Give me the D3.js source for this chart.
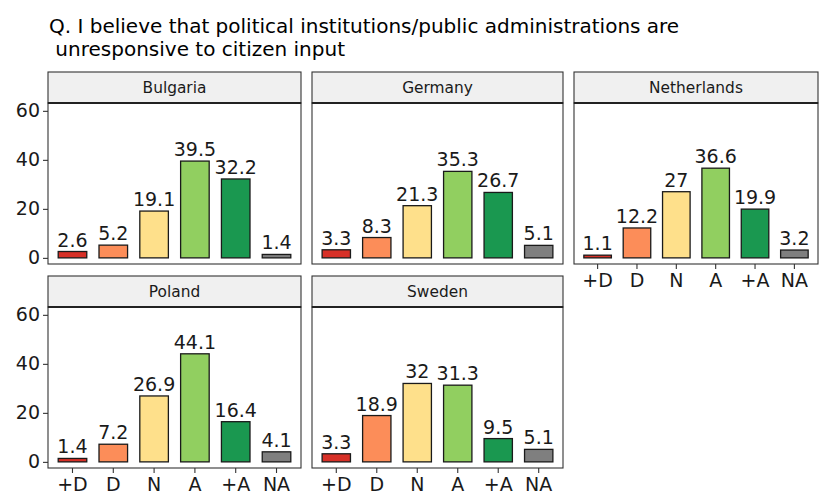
<!DOCTYPE html>
<html>
<head>
<meta charset="utf-8">
<script src="https://cdn.jsdelivr.net/npm/d3@7"></script>
<style>
  body { margin: 0; background: #fff; }
  text { font-family: "DejaVu Sans", sans-serif; }
</style>
</head>
<body>
<svg id="chart" width="820" height="495" viewBox="0 0 820 495"></svg>
<script>
// answer categories and their colours
const categories = ["+D", "D", "N", "A", "+A", "NA"];
const catColors = ["#d73027", "#fc8d59", "#fee08b", "#91cf60", "#1a9850", "#7f7f7f"];

const countries = ["Bulgaria", "Germany", "Netherlands", "Poland", "Sweden"];
const bulgaria = [2.6, 5.2, 19.1, 39.5, 32.2, 1.4];
const germany = [3.3, 8.3, 21.3, 35.3, 26.7, 5.1];
const netherlands = [1.1, 12.2, 27, 36.6, 19.9, 3.2];
const poland = [1.4, 7.2, 26.9, 44.1, 16.4, 4.1];
const sweden = [3.3, 18.9, 32, 31.3, 9.5, 5.1];
const yTicks = [0, 20, 40, 60];

const seriesByCountry = [bulgaria, germany, netherlands, poland, sweden];

const svg = d3.select("#chart");

svg.append("text")
  .attr("x", 49).attr("y", 33)
  .attr("font-size", 20).attr("fill", "#000")
  .text("Q. I believe that political institutions/public administrations are");
svg.append("text")
  .attr("x", 49).attr("y", 56)
  .attr("font-size", 20).attr("fill", "#000")
  .text("\u00a0unresponsive to citizen input");

const colX = [[48, 301], [312, 563], [574, 818]];
const rowTop = [72, 276];
const stripH = 31;
const panelH = 161;

// panel positions: [col, row, showYAxis, showXAxis]
const panelPos = [[0, 0, true, false], [1, 0, false, false], [2, 0, false, true],
                  [0, 1, true, true], [1, 1, false, true]];

countries.forEach((country, i) => {
  const [c, r, showY, showX] = panelPos[i];
  const values = seriesByCountry[i];
  const left = colX[c][0], right = colX[c][1];
  const stripTop = rowTop[r];
  const top = stripTop + stripH;
  const bottom = top + panelH;

  const x = d3.scaleBand()
    .domain(categories)
    .range([left, right])
    .paddingInner(0.3)
    .paddingOuter(0.25);

  const y = d3.scaleLinear().domain([-2.5, 63.2]).range([bottom, top]);

  const g = svg.append("g");

  // strip
  g.append("rect")
    .attr("x", left).attr("y", stripTop)
    .attr("width", right - left).attr("height", stripH)
    .attr("fill", "#f0f0f0").attr("stroke", "#333").attr("stroke-width", 1.1);
  g.append("text")
    .attr("x", (left + right) / 2).attr("y", stripTop + stripH / 2 + 5.5)
    .attr("text-anchor", "middle").attr("font-size", 15.4).attr("fill", "#1a1a1a")
    .text(country);

  // panel
  g.append("rect")
    .attr("x", left).attr("y", top)
    .attr("width", right - left).attr("height", panelH)
    .attr("fill", "#fff").attr("stroke", "#333").attr("stroke-width", 1.1);
  g.append("line")
    .attr("x1", left).attr("x2", right).attr("y1", top).attr("y2", top)
    .attr("stroke", "#222").attr("stroke-width", 2.2);

  g.selectAll(".bar")
    .data(values)
    .join("rect")
    .attr("x", (d, k) => x(categories[k]))
    .attr("y", d => y(d))
    .attr("width", x.bandwidth())
    .attr("height", d => y(0) - y(d))
    .attr("fill", (d, k) => catColors[k])
    .attr("stroke", "#1a1a1a").attr("stroke-width", 1.3);

  g.selectAll(".lbl")
    .data(values)
    .join("text")
    .attr("x", (d, k) => x(categories[k]) + x.bandwidth() / 2)
    .attr("y", d => y(d) - 5)
    .attr("text-anchor", "middle").attr("font-size", 19).attr("fill", "#1a1a1a")
    .text(d => d);

  if (showY) {
    const ya = g.append("g")
      .attr("transform", `translate(${left},0)`)
      .call(d3.axisLeft(y).tickValues(yTicks).tickSize(5).tickPadding(3));
    ya.select(".domain").remove();
    ya.selectAll("line").attr("stroke", "#333").attr("stroke-width", 1.1);
    ya.selectAll("text").attr("font-size", 19).attr("fill", "#1a1a1a")
      .attr("font-family", "DejaVu Sans");
  }
  if (showX) {
    const xa = g.append("g")
      .attr("transform", `translate(0,${bottom})`)
      .call(d3.axisBottom(x).tickSize(5).tickPadding(5));
    xa.select(".domain").remove();
    xa.selectAll("line").attr("stroke", "#333").attr("stroke-width", 1.1);
    xa.selectAll("text").attr("font-size", 19).attr("fill", "#1a1a1a")
      .attr("font-family", "DejaVu Sans");
  }
});
</script>
</body>
</html>
